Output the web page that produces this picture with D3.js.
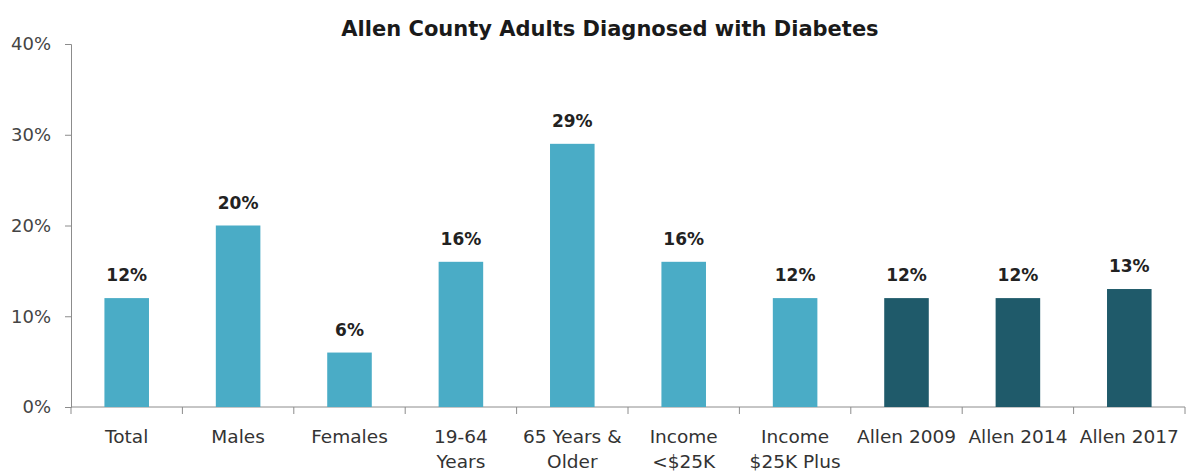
<!DOCTYPE html>
<head>
	<script src="https://d3js.org/d3.v7.min.js"></script>
	<style>
		body { margin: 0; background: #fff; }
		text { font-family: "DejaVu Sans", sans-serif; }
	</style>
</head>
<body>
	<script type="text/javascript">

		var categories = ["Total", "Males", "Females", "19-64|Years", "65 Years &|Older",
			"Income|<$25K", "Income|$25K Plus", "Allen 2009", "Allen 2014", "Allen 2017"];
		var values = [12, 20, 6, 16, 29, 16, 12, 12, 12, 13];
		var groups = ["sub", "sub", "sub", "sub", "sub", "sub", "sub", "year", "year", "year"];
		var yTicks = [0, 10, 20, 30, 40];

		var w = 1186;
		var h = 475;
		var mLeft = 71, mRight = 1185, mTop = 44, mBottom = 407;

		var svg = d3.select("body")
			.append("svg")
			.attr("width", w)
			.attr("height", h);

		var xScale = d3.scaleBand()
			.domain(d3.range(categories.length))
			.range([mLeft, mRight])
			.paddingInner(0.6)
			.paddingOuter(0.3);

		var yScale = d3.scaleLinear()
			.domain([0, 40])
			.range([mBottom, mTop]);

		var colors = { sub: "#4aacc6", year: "#1f5a6a" };

		// title
		svg.append("text")
			.attr("x", 610)
			.attr("y", 36)
			.attr("text-anchor", "middle")
			.attr("font-size", "21px")
			.attr("font-weight", "bold")
			.attr("fill", "#1a1a1a")
			.text("Allen County Adults Diagnosed with Diabetes");

		// y axis
		var yAxis = d3.axisLeft(yScale)
			.tickValues(yTicks)
			.tickSize(6)
			.tickPadding(14)
			.tickFormat(function(d){ return d + "%"; });

		var gy = svg.append("g")
			.attr("transform", "translate(" + mLeft + ",0)")
			.call(yAxis);
		gy.select(".domain").attr("stroke", "#8c8c8c");
		gy.selectAll(".tick line").attr("stroke", "#8c8c8c");
		gy.selectAll(".tick text")
			.attr("font-size", "18px")
			.attr("fill", "#444")
			.style("font-family", "'DejaVu Sans', sans-serif");

		// x axis line and boundary ticks
		svg.append("line")
			.attr("x1", mLeft).attr("x2", mRight)
			.attr("y1", mBottom).attr("y2", mBottom)
			.attr("stroke", "#8c8c8c");

		var step = xScale.step();
		var bounds = d3.range(categories.length + 1);
		svg.selectAll(".xtick")
			.data(bounds)
			.enter()
			.append("line")
			.attr("class", "xtick")
			.attr("x1", function(d){ return mLeft + d * step; })
			.attr("x2", function(d){ return mLeft + d * step; })
			.attr("y1", mBottom)
			.attr("y2", mBottom + 7)
			.attr("stroke", "#8c8c8c");

		// bars
		svg.selectAll(".bar")
			.data(values)
			.enter()
			.append("rect")
			.attr("class", "bar")
			.attr("x", function(d,i){ return xScale(i); })
			.attr("y", function(d){ return yScale(d); })
			.attr("width", xScale.bandwidth())
			.attr("height", function(d){ return mBottom - yScale(d); })
			.attr("fill", function(d,i){ return colors[groups[i]]; });

		// value labels
		svg.selectAll(".val")
			.data(values)
			.enter()
			.append("text")
			.attr("class", "val")
			.attr("x", function(d,i){ return xScale(i) + xScale.bandwidth() / 2; })
			.attr("y", function(d){ return yScale(d) - 17; })
			.attr("text-anchor", "middle")
			.attr("font-size", "17px")
			.attr("font-weight", "bold")
			.attr("fill", "#222")
			.text(function(d){ return d + "%"; });

		// category labels
		var labels = svg.selectAll(".cat")
			.data(categories)
			.enter()
			.append("text")
			.attr("class", "cat")
			.attr("text-anchor", "middle")
			.attr("font-size", "18.5px")
			.attr("fill", "#333")
			.attr("transform", function(d,i){
				return "translate(" + (xScale(i) + xScale.bandwidth() / 2) + "," + 443 + ")";
			});

		labels.each(function(d){
			var parts = d.split("|");
			var t = d3.select(this);
			parts.forEach(function(p, j){
				t.append("tspan")
					.attr("x", 0)
					.attr("y", j * 25)
					.text(p);
			});
		});

	</script>
</body>
